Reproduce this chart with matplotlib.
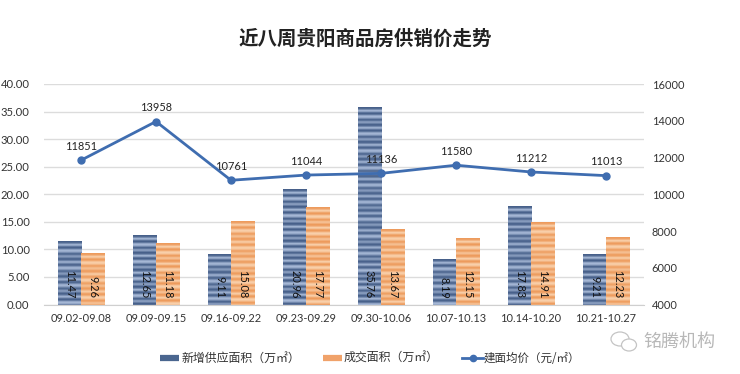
import matplotlib
matplotlib.use("Agg")
import matplotlib.pyplot as plt
import numpy as np
from matplotlib.colors import to_rgb
from matplotlib.patches import Ellipse

plt.rcParams['font.family'] = ['Noto Sans CJK SC', 'DejaVu Sans']

categories = ['09.02-09.08', '09.09-09.15', '09.16-09.22', '09.23-09.29',
              '09.30-10.06', '10.07-10.13', '10.14-10.20', '10.21-10.27']
supply = [11.47, 12.65, 9.11, 20.96, 35.76, 8.19, 17.83, 9.21]
sales = [9.26, 11.18, 15.08, 17.77, 13.67, 12.15, 14.91, 12.23]
price = [11851, 13958, 10761, 11044, 11136, 11580, 11212, 11013]
left_ticks = [0, 5, 10, 15, 20, 25, 30, 35, 40]
right_ticks = [4000, 6000, 8000, 10000, 12000, 14000, 16000]
legend_labels = ['新增供应面积（万㎡）', '成交面积（万㎡）', '建面均价（元/㎡）']
title = '近八周贵阳商品房供销价走势'

W, H = 740, 374
NUM = 'Lato'
fig = plt.figure(figsize=(W/100, H/100), dpi=100, facecolor='white')
ax = fig.add_axes([43.5/W, 1-304.5/H, 600/W, 220.5/H])
ax2 = ax.twinx()
ax.set_xlim(-0.5, 7.5)
ax.set_ylim(0, 40)
ax2.set_ylim(4000, 16000)

x = np.arange(len(categories))
bw = 0.307
band = np.array([0.1, 0.2, 0.55, 0.95, 0.75, 0.3, 0.1, 0.35, 0.8, 1.0, 0.85, 0.5, 0.15, 0.3, 0.65, 0.7, 0.4])


def stripes(c_dark, c_light, npx):
    t = np.resize(band, npx)[:, None]
    d, l = np.array(to_rgb(c_dark)), np.array(to_rgb(c_light))
    return (d[None, :] * (1 - t) + l[None, :] * t)[:, None, :]


def striped_bars(xs, vals, dark, light):
    bars = ax.bar(xs, vals, bw, color=dark, linewidth=0, zorder=2)
    for b in bars:
        h = b.get_height()
        npx = max(int(round(h / 40 * 220.5)), 1)
        im = ax.imshow(stripes(dark, light, npx), extent=[b.get_x(), b.get_x() + bw, 0, h],
                       aspect='auto', interpolation='bilinear', zorder=2.1)
        im.set_clip_path(b)


striped_bars(x - bw/2, supply, '#3d5782', '#a6b8d6')
striped_bars(x + bw/2, sales, '#ec9655', '#f9d0ab')
ax.set_xlim(-0.5, 7.5)
ax.set_ylim(0, 40)

for xs, vals in ((x - bw/2, supply), (x + bw/2, sales)):
    for xi, v in zip(xs, vals):
        ax.text(xi, 1.1, f'{v:.2f}', rotation=-90, ha='center', va='bottom',
                fontsize=7.9, color='#111111', zorder=3, family=NUM)

ax.set_yticks(left_ticks)
ax.set_yticklabels([f'{v:.2f}' for v in left_ticks], fontsize=8.1, color='#333333', family=NUM)
ax.set_xticks(x)
ax.set_xticklabels(categories, fontsize=7.9, color='#333333', family=NUM)
ax.tick_params(axis='x', length=0, pad=6)
ax.tick_params(axis='y', length=0, pad=10)
ax.grid(axis='y', color='#dcdcdc', linewidth=1)
ax.set_axisbelow(True)
for s in ['top', 'left', 'right']:
    ax.spines[s].set_visible(False)
ax.spines['bottom'].set_color('#cfcfcf')

ax2.set_zorder(ax.get_zorder() + 1)
ax2.plot(x, price, color='#3f6db0', lw=2.0, marker='o', ms=5, zorder=5)
ax2.set_yticks(right_ticks)
ax2.set_yticklabels([str(v) for v in right_ticks], fontsize=7.9, color='#333333', family=NUM)
ax2.tick_params(length=0, pad=6)
for s in ax2.spines.values():
    s.set_visible(False)
for xi, v in zip(x, price):
    ax2.annotate(str(v), (xi, v), xytext=(0, 10), textcoords='offset points', ha='center', va='center',
                 fontsize=7.9, color='#222222', family=NUM)

fig.text(365/W, 1-39/H, title, ha='center', va='center', fontsize=14, fontweight='bold', color='#222222')

# legend
y_leg = 358
fy = 1 - y_leg/H
for x0, x1, c in [(160, 179, '#4a668f'), (323, 342, '#f0a26a')]:
    fig.add_artist(plt.Line2D([x0/W, x1/W], [fy, fy], color=c, lw=4.5, solid_capstyle='butt'))
fig.add_artist(plt.Line2D([462/W, 483/W], [fy, fy], color='#3f6db0', lw=2))
fig.add_artist(plt.Line2D([472.5/W], [fy], color='#3f6db0', marker='o', ms=4.5))
fig.text(182/W, fy, legend_labels[0], ha='left', va='center', fontsize=8.6, color='#333333')
fig.text(344/W, fy, legend_labels[1], ha='left', va='center', fontsize=8.6, color='#333333')
fig.text(484/W, fy, legend_labels[2], ha='left', va='center', fontsize=8.3, color='#333333')

# watermark
fig.text(679/W, 1-342/H, '铭腾机构', ha='center', va='center', fontsize=13, color='#b8b8b8')
for cx, cy, w, h in [(620, 339, 18, 14), (629, 345, 15, 12)]:
    fig.add_artist(Ellipse((cx/W, 1-cy/H), w/W, h/H, transform=fig.transFigure,
                           fill=True, fc='white', ec='#c4c4c4', lw=0.9))

fig.savefig('out.png', dpi=100)
